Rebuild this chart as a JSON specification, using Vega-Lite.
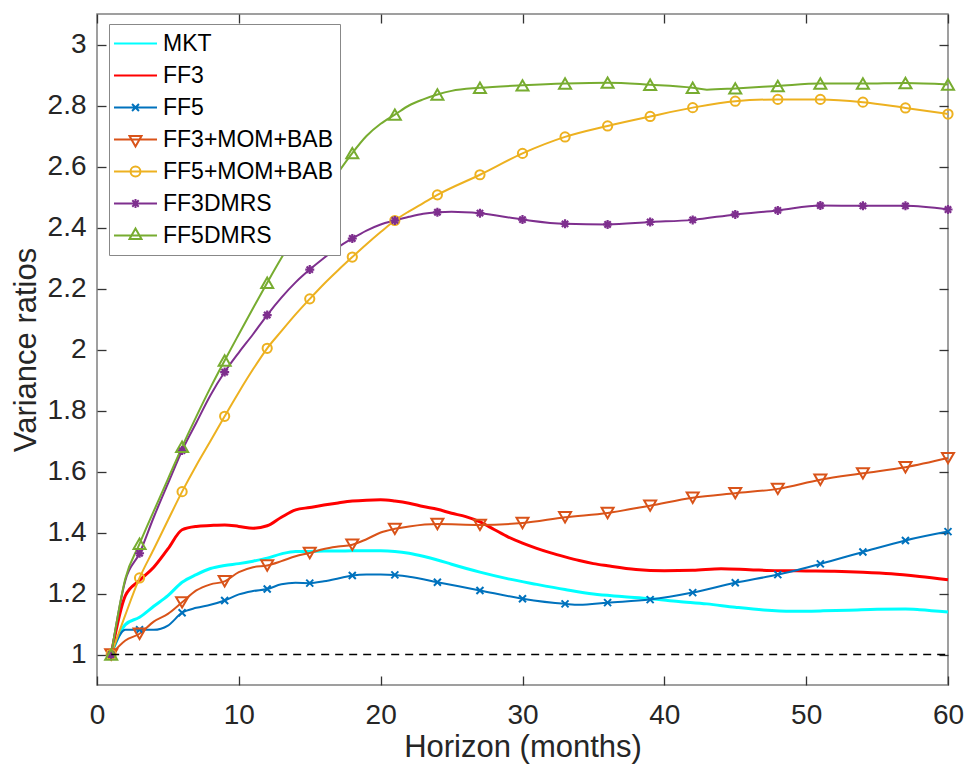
{
  "$schema": "https://vega.github.io/schema/vega-lite/v6.json",
  "width": 851,
  "height": 671,
  "autosize": "none",
  "padding": {"left": 97, "top": 14, "right": 18, "bottom": 84},
  "background": "white",
  "config": {
    "view": {"stroke": "#808080", "strokeWidth": 1.5},
    "font": "Liberation Sans",
    "axis": {
      "labelFont": "Liberation Sans", "titleFont": "Liberation Sans",
      "labelFontSize": 28, "titleFontSize": 31, "labelFlush": false,
      "labelColor": "#262626", "titleColor": "#262626", "titleFontWeight": "normal",
      "grid": false, "domain": false, "tickColor": "#333333", "tickWidth": 1.3, "tickSize": -9
    },
    "legend": {
      "orient": "none", "legendX": 12, "legendY": 10, "padding": 7, "rowPadding": 7,
      "labelFont": "Liberation Sans", "labelFontSize": 23, "labelColor": "#000000",
      "labelLimit": 400, "labelOffset": 15, "symbolSize": 529, "symbolOffset": 7,
      "symbolStrokeWidth": 2, "symbolOpacity": 1,
      "strokeColor": "#888888", "fillColor": "white", "title": null
    }
  },
  "datasets": {
    "ratios": [
      {"s":"MKT","h":1,"v":1.0},{"s":"MKT","h":2,"v":1.098},{"s":"MKT","h":3,"v":1.122},{"s":"MKT","h":4,"v":1.158},{"s":"MKT","h":5,"v":1.193},{"s":"MKT","h":6,"v":1.237},{"s":"MKT","h":7,"v":1.262},{"s":"MKT","h":8,"v":1.282},{"s":"MKT","h":9,"v":1.292},{"s":"MKT","h":10,"v":1.298},{"s":"MKT","h":11,"v":1.306},{"s":"MKT","h":12,"v":1.316},{"s":"MKT","h":13,"v":1.33},{"s":"MKT","h":14,"v":1.338},{"s":"MKT","h":15,"v":1.338},{"s":"MKT","h":16,"v":1.339},{"s":"MKT","h":17,"v":1.339},{"s":"MKT","h":18,"v":1.34},{"s":"MKT","h":19,"v":1.34},{"s":"MKT","h":20,"v":1.34},{"s":"MKT","h":21,"v":1.338},{"s":"MKT","h":22,"v":1.332},{"s":"MKT","h":23,"v":1.322},{"s":"MKT","h":24,"v":1.31},{"s":"MKT","h":25,"v":1.296},{"s":"MKT","h":27,"v":1.27},{"s":"MKT","h":29,"v":1.248},{"s":"MKT","h":31,"v":1.23},{"s":"MKT","h":33,"v":1.213},{"s":"MKT","h":35,"v":1.198},{"s":"MKT","h":37,"v":1.19},{"s":"MKT","h":39,"v":1.183},{"s":"MKT","h":41,"v":1.174},{"s":"MKT","h":43,"v":1.166},{"s":"MKT","h":45,"v":1.155},{"s":"MKT","h":47,"v":1.146},{"s":"MKT","h":49,"v":1.142},{"s":"MKT","h":51,"v":1.143},{"s":"MKT","h":53,"v":1.145},{"s":"MKT","h":55,"v":1.148},{"s":"MKT","h":57,"v":1.149},{"s":"MKT","h":58,"v":1.147},{"s":"MKT","h":60,"v":1.139},
      {"s":"FF3","h":1,"v":1.0},{"s":"FF3","h":2,"v":1.193},{"s":"FF3","h":3,"v":1.243},{"s":"FF3","h":4,"v":1.286},{"s":"FF3","h":5,"v":1.346},{"s":"FF3","h":6,"v":1.409},{"s":"FF3","h":7,"v":1.42},{"s":"FF3","h":8,"v":1.423},{"s":"FF3","h":9,"v":1.425},{"s":"FF3","h":10,"v":1.42},{"s":"FF3","h":11,"v":1.414},{"s":"FF3","h":12,"v":1.422},{"s":"FF3","h":13,"v":1.45},{"s":"FF3","h":14,"v":1.474},{"s":"FF3","h":15,"v":1.482},{"s":"FF3","h":16,"v":1.49},{"s":"FF3","h":17,"v":1.497},{"s":"FF3","h":18,"v":1.503},{"s":"FF3","h":19,"v":1.506},{"s":"FF3","h":20,"v":1.507},{"s":"FF3","h":21,"v":1.503},{"s":"FF3","h":22,"v":1.496},{"s":"FF3","h":23,"v":1.485},{"s":"FF3","h":24,"v":1.476},{"s":"FF3","h":25,"v":1.463},{"s":"FF3","h":26,"v":1.452},{"s":"FF3","h":27,"v":1.435},{"s":"FF3","h":28,"v":1.41},{"s":"FF3","h":29,"v":1.385},{"s":"FF3","h":30,"v":1.365},{"s":"FF3","h":31,"v":1.348},{"s":"FF3","h":32,"v":1.333},{"s":"FF3","h":33,"v":1.32},{"s":"FF3","h":34,"v":1.308},{"s":"FF3","h":35,"v":1.298},{"s":"FF3","h":36,"v":1.291},{"s":"FF3","h":38,"v":1.279},{"s":"FF3","h":40,"v":1.275},{"s":"FF3","h":42,"v":1.276},{"s":"FF3","h":44,"v":1.281},{"s":"FF3","h":46,"v":1.278},{"s":"FF3","h":48,"v":1.275},{"s":"FF3","h":50,"v":1.274},{"s":"FF3","h":52,"v":1.273},{"s":"FF3","h":54,"v":1.27},{"s":"FF3","h":56,"v":1.265},{"s":"FF3","h":58,"v":1.256},{"s":"FF3","h":60,"v":1.245},
      {"s":"FF5","h":1,"v":1.0},{"s":"FF5","h":2,"v":1.081},{"s":"FF5","h":3,"v":1.081},{"s":"FF5","h":4,"v":1.081},{"s":"FF5","h":5,"v":1.095},{"s":"FF5","h":6,"v":1.137},{"s":"FF5","h":7,"v":1.153},{"s":"FF5","h":8,"v":1.163},{"s":"FF5","h":9,"v":1.177},{"s":"FF5","h":10,"v":1.197},{"s":"FF5","h":11,"v":1.208},{"s":"FF5","h":12,"v":1.215},{"s":"FF5","h":13,"v":1.23},{"s":"FF5","h":14,"v":1.235},{"s":"FF5","h":15,"v":1.234},{"s":"FF5","h":16,"v":1.24},{"s":"FF5","h":17,"v":1.249},{"s":"FF5","h":18,"v":1.259},{"s":"FF5","h":19,"v":1.262},{"s":"FF5","h":20,"v":1.262},{"s":"FF5","h":21,"v":1.261},{"s":"FF5","h":22,"v":1.255},{"s":"FF5","h":24,"v":1.237},{"s":"FF5","h":27,"v":1.21},{"s":"FF5","h":30,"v":1.183},{"s":"FF5","h":33,"v":1.166},{"s":"FF5","h":34,"v":1.163},{"s":"FF5","h":36,"v":1.17},{"s":"FF5","h":39,"v":1.18},{"s":"FF5","h":42,"v":1.203},{"s":"FF5","h":45,"v":1.235},{"s":"FF5","h":48,"v":1.262},{"s":"FF5","h":51,"v":1.297},{"s":"FF5","h":54,"v":1.336},{"s":"FF5","h":57,"v":1.374},{"s":"FF5","h":60,"v":1.403},
      {"s":"FF3+MOM+BAB","h":1,"v":1.0},{"s":"FF3+MOM+BAB","h":2,"v":1.046},{"s":"FF3+MOM+BAB","h":3,"v":1.068},{"s":"FF3+MOM+BAB","h":4,"v":1.108},{"s":"FF3+MOM+BAB","h":5,"v":1.133},{"s":"FF3+MOM+BAB","h":6,"v":1.171},{"s":"FF3+MOM+BAB","h":7,"v":1.21},{"s":"FF3+MOM+BAB","h":8,"v":1.23},{"s":"FF3+MOM+BAB","h":9,"v":1.24},{"s":"FF3+MOM+BAB","h":10,"v":1.27},{"s":"FF3+MOM+BAB","h":11,"v":1.286},{"s":"FF3+MOM+BAB","h":12,"v":1.292},{"s":"FF3+MOM+BAB","h":13,"v":1.306},{"s":"FF3+MOM+BAB","h":14,"v":1.322},{"s":"FF3+MOM+BAB","h":15,"v":1.333},{"s":"FF3+MOM+BAB","h":16,"v":1.346},{"s":"FF3+MOM+BAB","h":17,"v":1.354},{"s":"FF3+MOM+BAB","h":18,"v":1.36},{"s":"FF3+MOM+BAB","h":19,"v":1.378},{"s":"FF3+MOM+BAB","h":20,"v":1.4},{"s":"FF3+MOM+BAB","h":21,"v":1.412},{"s":"FF3+MOM+BAB","h":22,"v":1.42},{"s":"FF3+MOM+BAB","h":24,"v":1.428},{"s":"FF3+MOM+BAB","h":27,"v":1.425},{"s":"FF3+MOM+BAB","h":30,"v":1.431},{"s":"FF3+MOM+BAB","h":33,"v":1.45},{"s":"FF3+MOM+BAB","h":36,"v":1.464},{"s":"FF3+MOM+BAB","h":39,"v":1.488},{"s":"FF3+MOM+BAB","h":42,"v":1.514},{"s":"FF3+MOM+BAB","h":45,"v":1.529},{"s":"FF3+MOM+BAB","h":48,"v":1.543},{"s":"FF3+MOM+BAB","h":51,"v":1.573},{"s":"FF3+MOM+BAB","h":54,"v":1.594},{"s":"FF3+MOM+BAB","h":57,"v":1.614},{"s":"FF3+MOM+BAB","h":60,"v":1.644},
      {"s":"FF5+MOM+BAB","h":1,"v":1.0},{"s":"FF5+MOM+BAB","h":2,"v":1.13},{"s":"FF5+MOM+BAB","h":3,"v":1.251},{"s":"FF5+MOM+BAB","h":4,"v":1.345},{"s":"FF5+MOM+BAB","h":5,"v":1.44},{"s":"FF5+MOM+BAB","h":6,"v":1.534},{"s":"FF5+MOM+BAB","h":7,"v":1.62},{"s":"FF5+MOM+BAB","h":8,"v":1.7},{"s":"FF5+MOM+BAB","h":9,"v":1.781},{"s":"FF5+MOM+BAB","h":10,"v":1.86},{"s":"FF5+MOM+BAB","h":11,"v":1.935},{"s":"FF5+MOM+BAB","h":12,"v":2.004},{"s":"FF5+MOM+BAB","h":13,"v":2.06},{"s":"FF5+MOM+BAB","h":14,"v":2.115},{"s":"FF5+MOM+BAB","h":15,"v":2.166},{"s":"FF5+MOM+BAB","h":16,"v":2.215},{"s":"FF5+MOM+BAB","h":17,"v":2.26},{"s":"FF5+MOM+BAB","h":18,"v":2.303},{"s":"FF5+MOM+BAB","h":19,"v":2.345},{"s":"FF5+MOM+BAB","h":20,"v":2.385},{"s":"FF5+MOM+BAB","h":21,"v":2.423},{"s":"FF5+MOM+BAB","h":22,"v":2.453},{"s":"FF5+MOM+BAB","h":23,"v":2.48},{"s":"FF5+MOM+BAB","h":24,"v":2.507},{"s":"FF5+MOM+BAB","h":27,"v":2.573},{"s":"FF5+MOM+BAB","h":30,"v":2.643},{"s":"FF5+MOM+BAB","h":33,"v":2.697},{"s":"FF5+MOM+BAB","h":36,"v":2.733},{"s":"FF5+MOM+BAB","h":39,"v":2.764},{"s":"FF5+MOM+BAB","h":42,"v":2.793},{"s":"FF5+MOM+BAB","h":45,"v":2.814},{"s":"FF5+MOM+BAB","h":48,"v":2.82},{"s":"FF5+MOM+BAB","h":51,"v":2.82},{"s":"FF5+MOM+BAB","h":54,"v":2.811},{"s":"FF5+MOM+BAB","h":57,"v":2.792},{"s":"FF5+MOM+BAB","h":60,"v":2.772},
      {"s":"FF3DMRS","h":1,"v":1.0},{"s":"FF3DMRS","h":2,"v":1.243},{"s":"FF3DMRS","h":3,"v":1.332},{"s":"FF3DMRS","h":4,"v":1.45},{"s":"FF3DMRS","h":5,"v":1.56},{"s":"FF3DMRS","h":6,"v":1.669},{"s":"FF3DMRS","h":7,"v":1.76},{"s":"FF3DMRS","h":8,"v":1.85},{"s":"FF3DMRS","h":9,"v":1.926},{"s":"FF3DMRS","h":10,"v":1.99},{"s":"FF3DMRS","h":11,"v":2.05},{"s":"FF3DMRS","h":12,"v":2.113},{"s":"FF3DMRS","h":13,"v":2.17},{"s":"FF3DMRS","h":14,"v":2.22},{"s":"FF3DMRS","h":15,"v":2.262},{"s":"FF3DMRS","h":16,"v":2.3},{"s":"FF3DMRS","h":17,"v":2.335},{"s":"FF3DMRS","h":18,"v":2.364},{"s":"FF3DMRS","h":19,"v":2.39},{"s":"FF3DMRS","h":20,"v":2.41},{"s":"FF3DMRS","h":21,"v":2.423},{"s":"FF3DMRS","h":22,"v":2.435},{"s":"FF3DMRS","h":23,"v":2.445},{"s":"FF3DMRS","h":24,"v":2.45},{"s":"FF3DMRS","h":25,"v":2.452},{"s":"FF3DMRS","h":27,"v":2.447},{"s":"FF3DMRS","h":30,"v":2.426},{"s":"FF3DMRS","h":33,"v":2.412},{"s":"FF3DMRS","h":36,"v":2.41},{"s":"FF3DMRS","h":39,"v":2.418},{"s":"FF3DMRS","h":42,"v":2.425},{"s":"FF3DMRS","h":45,"v":2.443},{"s":"FF3DMRS","h":48,"v":2.456},{"s":"FF3DMRS","h":51,"v":2.472},{"s":"FF3DMRS","h":54,"v":2.471},{"s":"FF3DMRS","h":57,"v":2.471},{"s":"FF3DMRS","h":60,"v":2.459},
      {"s":"FF5DMRS","h":1,"v":1.0},{"s":"FF5DMRS","h":2,"v":1.249},{"s":"FF5DMRS","h":3,"v":1.363},{"s":"FF5DMRS","h":4,"v":1.47},{"s":"FF5DMRS","h":5,"v":1.575},{"s":"FF5DMRS","h":6,"v":1.681},{"s":"FF5DMRS","h":7,"v":1.78},{"s":"FF5DMRS","h":8,"v":1.875},{"s":"FF5DMRS","h":9,"v":1.964},{"s":"FF5DMRS","h":10,"v":2.05},{"s":"FF5DMRS","h":11,"v":2.135},{"s":"FF5DMRS","h":12,"v":2.219},{"s":"FF5DMRS","h":13,"v":2.3},{"s":"FF5DMRS","h":14,"v":2.375},{"s":"FF5DMRS","h":15,"v":2.445},{"s":"FF5DMRS","h":16,"v":2.51},{"s":"FF5DMRS","h":17,"v":2.58},{"s":"FF5DMRS","h":18,"v":2.644},{"s":"FF5DMRS","h":19,"v":2.7},{"s":"FF5DMRS","h":20,"v":2.74},{"s":"FF5DMRS","h":21,"v":2.77},{"s":"FF5DMRS","h":22,"v":2.8},{"s":"FF5DMRS","h":23,"v":2.82},{"s":"FF5DMRS","h":24,"v":2.836},{"s":"FF5DMRS","h":25,"v":2.848},{"s":"FF5DMRS","h":27,"v":2.858},{"s":"FF5DMRS","h":30,"v":2.866},{"s":"FF5DMRS","h":33,"v":2.872},{"s":"FF5DMRS","h":36,"v":2.875},{"s":"FF5DMRS","h":39,"v":2.868},{"s":"FF5DMRS","h":42,"v":2.858},{"s":"FF5DMRS","h":43,"v":2.852},{"s":"FF5DMRS","h":45,"v":2.856},{"s":"FF5DMRS","h":48,"v":2.864},{"s":"FF5DMRS","h":51,"v":2.872},{"s":"FF5DMRS","h":54,"v":2.872},{"s":"FF5DMRS","h":57,"v":2.874},{"s":"FF5DMRS","h":60,"v":2.869}
    ],
    "baseline": [{"h": 1, "v": 1}, {"h": 60, "v": 1}]
  },
  "data": {"name": "ratios"},
  "resolve": {"axis": {"x": "independent", "y": "independent"}},
  "encoding": {
    "x": {"field": "h", "type": "quantitative", "scale": {"domain": [0, 60], "nice": false}, "axis": null},
    "y": {"field": "v", "type": "quantitative", "scale": {"domain": [0.9, 3.1], "nice": false, "zero": false}, "axis": null}
  },
  "layer": [
    {
      "transform": [{"filter": "datum.s == 'MKT'"}],
      "mark": {"type": "line", "color": "#00FFFF", "strokeWidth": 3, "interpolate": "monotone"},
      "encoding": {
        "x": {"field": "h", "type": "quantitative", "scale": {"domain": [0, 60], "nice": false},
              "axis": {"orient": "bottom", "values": [0, 10, 20, 30, 40, 50, 60], "title": "Horizon (months)", "labelPadding": 25, "titlePadding": 3}},
        "y": {"field": "v", "type": "quantitative", "scale": {"domain": [0.9, 3.1], "nice": false, "zero": false},
              "axis": {"orient": "left", "values": [1, 1.2, 1.4, 1.6, 1.8, 2, 2.2, 2.4, 2.6, 2.8, 3], "format": "~g", "title": "Variance ratios", "labelPadding": 20, "titlePadding": 5}}
      }
    },
    {"transform": [{"filter": "datum.s == 'FF3'"}], "mark": {"type": "line", "color": "#FF0000", "strokeWidth": 3, "interpolate": "monotone"}},
    {"transform": [{"filter": "datum.s == 'FF5'"}], "mark": {"type": "line", "color": "#0072BD", "strokeWidth": 2, "interpolate": "monotone"}},
    {"transform": [{"filter": "datum.s == 'FF3+MOM+BAB'"}], "mark": {"type": "line", "color": "#D95319", "strokeWidth": 2, "interpolate": "monotone"}},
    {"transform": [{"filter": "datum.s == 'FF5+MOM+BAB'"}], "mark": {"type": "line", "color": "#EDB120", "strokeWidth": 2, "interpolate": "monotone"}},
    {"transform": [{"filter": "datum.s == 'FF3DMRS'"}], "mark": {"type": "line", "color": "#7E2F8E", "strokeWidth": 2, "interpolate": "monotone"}},
    {"transform": [{"filter": "datum.s == 'FF5DMRS'"}], "mark": {"type": "line", "color": "#77AC30", "strokeWidth": 2, "interpolate": "monotone"}},
    {"transform": [{"filter": "datum.s == 'FF5' && (datum.h == 1 || datum.h % 3 == 0)"}],
     "mark": {"type": "point", "shape": "M-1,-1L1,1M-1,1L1,-1", "filled": false, "color": "#0072BD", "size": 49, "strokeWidth": 2, "opacity": 1}},
    {"transform": [{"filter": "datum.s == 'FF3+MOM+BAB' && (datum.h == 1 || datum.h % 3 == 0)"}],
     "mark": {"type": "point", "shape": "triangle-down", "filled": false, "color": "#D95319", "size": 144, "strokeWidth": 2, "opacity": 1}},
    {"transform": [{"filter": "datum.s == 'FF5+MOM+BAB' && (datum.h == 1 || datum.h % 3 == 0)"}],
     "mark": {"type": "point", "shape": "circle", "filled": false, "color": "#EDB120", "size": 85, "strokeWidth": 2, "opacity": 1}},
    {"transform": [{"filter": "datum.s == 'FF3DMRS' && (datum.h == 1 || datum.h % 3 == 0)"}],
     "mark": {"type": "point", "shape": "M0,-1V1M-1,0H1M-0.7,-0.7L0.7,0.7M-0.7,0.7L0.7,-0.7", "filled": false, "color": "#7E2F8E", "size": 81, "strokeWidth": 2.2, "opacity": 1}},
    {"transform": [{"filter": "datum.s == 'FF5DMRS' && (datum.h == 1 || datum.h % 3 == 0)"}],
     "mark": {"type": "point", "shape": "triangle-up", "filled": false, "color": "#77AC30", "size": 144, "strokeWidth": 2, "opacity": 1}},
    {
      "data": {"name": "baseline"},
      "mark": {"type": "line", "color": "#000000", "strokeWidth": 1.5, "strokeDash": [8, 6]},
      "encoding": {
        "x": {"field": "h", "type": "quantitative", "scale": {"domain": [0, 60], "nice": false},
              "axis": {"orient": "top", "labels": false, "title": null, "values": [0, 10, 20, 30, 40, 50, 60]}},
        "y": {"field": "v", "type": "quantitative", "scale": {"domain": [0.9, 3.1], "nice": false, "zero": false},
              "axis": {"orient": "right", "labels": false, "title": null, "values": [1, 1.2, 1.4, 1.6, 1.8, 2, 2.2, 2.4, 2.6, 2.8, 3]}}
      }
    },
    {
      "transform": [{"filter": "datum.h == 1"}],
      "mark": {"type": "point", "filled": false, "opacity": 0, "size": 529, "strokeWidth": 2},
      "encoding": {
        "color": {"field": "s", "type": "nominal",
          "scale": {"domain": ["MKT", "FF3", "FF5", "FF3+MOM+BAB", "FF5+MOM+BAB", "FF3DMRS", "FF5DMRS"],
                    "range": ["#00FFFF", "#FF0000", "#0072BD", "#D95319", "#EDB120", "#7E2F8E", "#77AC30"]},
          "legend": {}},
        "shape": {"field": "s", "type": "nominal",
          "scale": {"domain": ["MKT", "FF3", "FF5", "FF3+MOM+BAB", "FF5+MOM+BAB", "FF3DMRS", "FF5DMRS"],
                    "range": ["M-1.87,0H1.87", "M-1.87,0H1.87",
                              "M-1.87,0H1.87M-0.3,-0.3L0.3,0.3M-0.3,0.3L0.3,-0.3",
                              "M-1.87,0H1.87M-0.52,-0.3L0.52,-0.3L0,0.6Z",
                              "M-1.87,0H1.87M0.43,0A0.43,0.43,0,1,1,-0.43,0A0.43,0.43,0,1,1,0.43,0",
                              "M-1.87,0H1.87M0,-0.4V0.4M-0.4,0H0.4M-0.28,-0.28L0.28,0.28M-0.28,0.28L0.28,-0.28",
                              "M-1.87,0H1.87M-0.52,0.3L0.52,0.3L0,-0.6Z"]},
          "legend": {}}
      }
    }
  ]
}
